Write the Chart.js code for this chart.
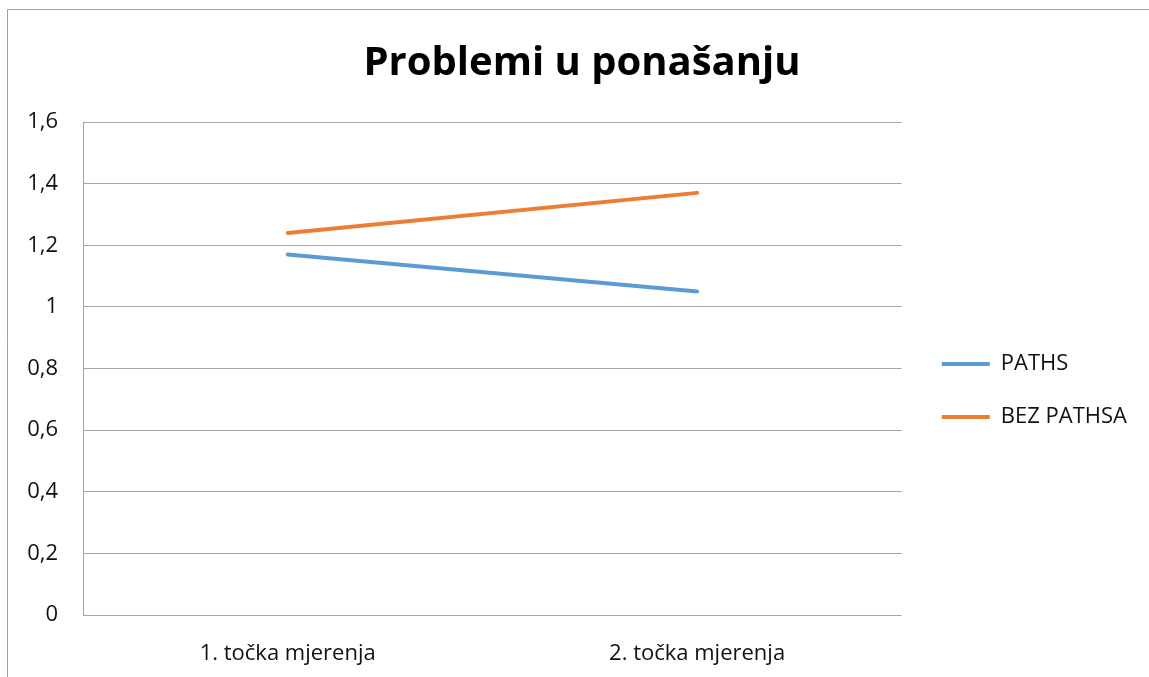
<!DOCTYPE html>
<html>
<head>
    <meta charset="utf-8">
    <title>Problemi u ponašanju</title>
    <script src="https://cdnjs.cloudflare.com/ajax/libs/Chart.js/4.4.1/chart.umd.min.js"></script>
    <style>
        html, body { margin: 0; padding: 0; background: #fff; }
        .chart-container { width: 1149px; height: 677px; }
    </style>
</head>
<body>
    <div class="chart-container">
        <canvas id="myChart"></canvas>
    </div>

    <script>
        // Values
        const categories = ['1. točka mjerenja', '2. točka mjerenja'];
        const pathsValues = [1.17, 1.05];
        const bezPathsaValues = [1.24, 1.37];
        const yTicks = [0, 0.2, 0.4, 0.6, 0.8, 1, 1.2, 1.4, 1.6];

        const fontFamily = "'Open Sans', 'Noto Sans', sans-serif";
        const textColor = '#111';
        const gridColor = '#a6a6a6';

        // outer frame like the Excel chart border (left and top edges only visible)
        const framePlugin = {
            id: 'frame',
            beforeDraw(chart) {
                const c = chart.ctx;
                c.save();
                c.strokeStyle = '#a0a0a0';
                c.lineWidth = 1;
                c.beginPath();
                c.moveTo(7.5, chart.height);
                c.lineTo(7.5, 9.5);
                c.lineTo(chart.width, 9.5);
                c.stroke();
                c.restore();
            }
        };

        const ctx = document.getElementById('myChart').getContext('2d');
        new Chart(ctx, {
            type: 'line',
            data: {
                labels: categories,
                datasets: [
                    {
                        label: 'PATHS',
                        data: pathsValues,
                        borderColor: '#5b9bd5',
                        backgroundColor: '#5b9bd5',
                        borderWidth: 4,
                        borderCapStyle: 'round',
                        pointRadius: 0,
                        fill: false,
                        tension: 0
                    },
                    {
                        label: 'BEZ PATHSA',
                        data: bezPathsaValues,
                        borderColor: '#ed7d31',
                        backgroundColor: '#ed7d31',
                        borderWidth: 4,
                        borderCapStyle: 'round',
                        pointRadius: 0,
                        fill: false,
                        tension: 0
                    }
                ]
            },
            plugins: [framePlugin],
            options: {
                responsive: true,
                maintainAspectRatio: false,
                animation: false,
                layout: { padding: { left: 27, right: 12, top: 0, bottom: 0 } },
                plugins: {
                    tooltip: { enabled: false },
                    title: {
                        display: true,
                        text: 'Problemi u ponašanju',
                        color: '#000',
                        font: { family: fontFamily, size: 40, weight: 'bold', lineHeight: 1.2 },
                        padding: { top: 40, bottom: 34 }
                    },
                    legend: {
                        position: 'right',
                        align: 'start',
                        title: {
                            display: true,
                            text: ' ',
                            font: { size: 1, lineHeight: 1 },
                            padding: { top: 321, bottom: 0 }
                        },
                        labels: {
                            color: textColor,
                            font: { family: fontFamily, size: 22 },
                            boxWidth: 48,
                            boxHeight: 4,
                            padding: 31,
                            generateLabels: function(chart) {
                                return Chart.defaults.plugins.legend.labels.generateLabels(chart)
                                    .map(item => Object.assign(item, { lineWidth: 0 }));
                            }
                        }
                    }
                },
                scales: {
                    x: {
                        offset: true,
                        grid: { display: false },
                        border: { display: false },
                        ticks: {
                            color: textColor,
                            font: { family: fontFamily, size: 22 },
                            padding: 18,
                            maxRotation: 0
                        },
                        afterFit: s => { s.height = 62; }
                    },
                    y: {
                        min: 0,
                        max: 1.6,
                        afterBuildTicks: s => { s.ticks = yTicks.map(v => ({ value: v })); },
                        grid: { color: gridColor, lineWidth: 1, drawTicks: false },
                        border: { display: true, color: gridColor, width: 1 },
                        ticks: {
                            color: textColor,
                            font: { family: fontFamily, size: 22 },
                            padding: 25,
                            callback: v => String(v).replace('.', ',')
                        },
                        afterFit: s => { s.width = 56; }
                    },
                    // hidden spacer between plot area and legend
                    gap: {
                        type: 'linear',
                        position: 'right',
                        display: false,
                        afterFit: s => { s.width = 9; }
                    }
                }
            }
        });
    </script>
</body>
</html>
